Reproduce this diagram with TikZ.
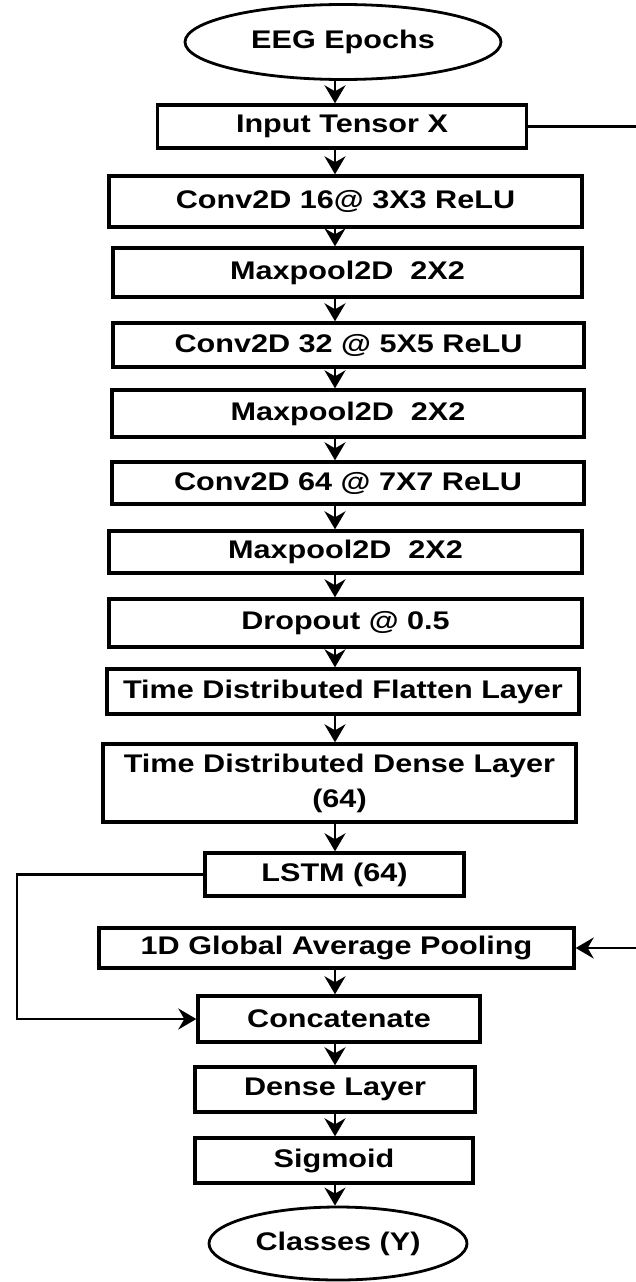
\documentclass[tikz,border=0pt]{standalone}
\usepackage{fontspec}
\setmainfont{Liberation Sans}[FakeStretch=1.2]
\usetikzlibrary{arrows.meta,shapes.geometric}

\begin{document}
\begin{tikzpicture}[x=1pt, y=-1pt,
    layer/.style={draw, rectangle, line width=3.4pt, inner sep=0pt, align=center,
      font=\bfseries\fontsize{25.5}{35}\selectfont},
    term/.style={draw, ellipse, line width=2.8pt, inner sep=0pt,
      font=\bfseries\fontsize{25.5}{30}\selectfont},
    link/.style={line width=2.6pt, -{Stealth[length=18pt, width=21pt, inset=6pt]}},
    wire/.style={line width=2.4pt}]
  \useasboundingbox (0,0) rectangle (636,1282);
  \coordinate (axis) at (335,0);
  \coordinate (leftrail) at (17,0);
  \coordinate (rightrail) at (636,0);

  \node[term, minimum width=316pt, minimum height=75pt] (epochs) at (343,42) {EEG Epochs};
  \node[layer, minimum width=369pt, minimum height=43pt] (input) at (342,126.5) {Input Tensor X};
  \node[layer, minimum width=473pt, minimum height=51pt] (conv1) at (345.5,201.5) {Conv2D 16@ 3X3 ReLU};
  \node[layer, minimum width=469pt, minimum height=49pt] (pool1) at (347.5,272.5) {Maxpool2D\ \ 2X2};
  \node[layer, minimum width=471pt, minimum height=44pt] (conv2) at (348.5,345) {Conv2D 32 @ 5X5 ReLU};
  \node[layer, minimum width=472pt, minimum height=47pt] (pool2) at (348,413.5) {Maxpool2D\ \ 2X2};
  \node[layer, minimum width=472pt, minimum height=42pt] (conv3) at (348,483) {Conv2D 64 @ 7X7 ReLU};
  \node[layer, minimum width=473pt, minimum height=42pt] (pool3) at (345.5,552) {Maxpool2D\ \ 2X2};
  \node[layer, minimum width=473pt, minimum height=48pt] (drop) at (345.5,623) {Dropout @ 0.5};
  \node[layer, minimum width=472pt, minimum height=45pt] (flatten) at (343,691.5) {Time Distributed Flatten Layer};
  \node[layer, minimum width=473pt, minimum height=78pt] (tddense) at (339.5,783) {Time Distributed Dense Layer\\(64)};
  \node[layer, minimum width=259pt, minimum height=43pt] (lstm) at (334.5,874.5) {LSTM (64)};
  \node[layer, minimum width=475pt, minimum height=40pt] (gap) at (336.5,948) {1D Global Average Pooling};
  \node[layer, minimum width=282pt, minimum height=46pt] (concat) at (339,1019) {Concatenate};
  \node[layer, minimum width=280pt, minimum height=45pt] (dense) at (335,1089.5) {Dense Layer};
  \node[layer, minimum width=278pt, minimum height=45pt] (sigmoid) at (334,1160.5) {Sigmoid};
  \node[term, minimum width=258pt, minimum height=73pt] (classes) at (338,1243.5) {Classes (Y)};

  \foreach \a/\b in {epochs/input, input/conv1, conv1/pool1, pool1/conv2, conv2/pool2,
      pool2/conv3, conv3/pool3, pool3/drop, drop/flatten, flatten/tddense, tddense/lstm,
      gap/concat, concat/dense, dense/sigmoid, sigmoid/classes}
    \draw[link] (\a.south -| axis) -- (\b.north -| axis);

  \draw[wire] (input.east) -- (input.east -| rightrail);
  \draw[link] (gap.east -| rightrail) -- (gap.east);
  \draw[link] (lstm.west) -- (lstm.west -| leftrail) |- (concat.west);
\end{tikzpicture}
\end{document}
